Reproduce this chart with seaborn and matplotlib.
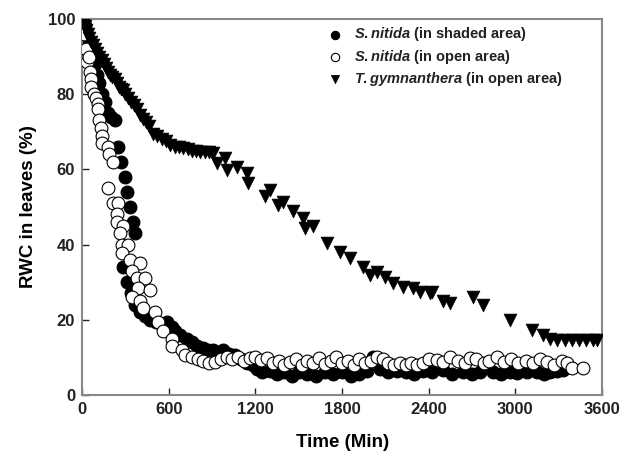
import pandas as pd
import matplotlib
matplotlib.use('Agg')
import matplotlib.pyplot as plt
import seaborn as sns

# S.nitida in shaded area (filled circles)
shaded_t = [0, 10, 20, 30, 45, 60, 75, 90, 105, 120, 140, 160, 180, 200, 228, 250, 270, 298, 312, 330,
            355, 367, 284, 312, 340, 367, 400, 436, 470, 510, 550, 589, 620, 644, 680, 727, 760, 796, 840,
            873, 907, 940, 976, 1020, 1060, 1100, 1140, 1180, 1212, 1247, 1300, 1350, 1400, 1450, 1500,
            1560, 1620, 1680, 1740, 1800, 1860, 1920, 1970, 2015, 2060, 2120, 2180, 2240, 2300, 2360,
            2420, 2500, 2560, 2640, 2700, 2756, 2846, 2900, 2960, 3012, 3080, 3150, 3200, 3240, 3290, 3330]
shaded_v = [100, 99, 98, 96, 94, 92, 90, 88, 85, 83, 80, 78, 75, 74, 73, 66, 62, 58, 54, 50,
            46, 43, 34, 30, 27, 24, 22, 21, 20, 19.5, 19, 19.5, 18, 17, 16, 15, 14, 13, 12.5,
            12, 12, 11.5, 12, 11, 10.5, 9.5, 8.5, 8, 7, 6, 6.5, 5.5, 6, 5, 6,
            5.5, 5, 6, 5.5, 6, 5, 5.5, 6.5, 10, 7, 6, 6.5, 6, 5.5, 6.5,
            6, 6.6, 5.5, 6, 5.5, 6, 6, 5.5, 6, 5.8, 6, 6, 5.5, 6, 6.5, 6.6]

# S.nitida in open area (open circles)
open_t = [0, 15, 25, 35, 45, 55, 65, 60, 80, 95, 110, 110, 115, 130, 140, 138, 180, 185, 215, 180,
          215, 250, 242, 242, 284, 263, 277, 318, 277, 332, 400, 346, 380, 436, 387, 470, 346, 400,
          422, 505, 526, 561, 623, 623, 692, 713, 762, 800, 840, 880, 920, 960, 1000, 1040, 1080,
          1120, 1160, 1200, 1240, 1280, 1320, 1360, 1400, 1440, 1480, 1520, 1560, 1600, 1640, 1680,
          1720, 1760, 1800, 1840, 1880, 1920, 1960, 2000, 2040, 2080, 2120, 2160, 2200, 2240, 2280,
          2320, 2360, 2400, 2458, 2500, 2550, 2600, 2650, 2687, 2730, 2780, 2820, 2870, 2920, 2970,
          3020, 3070, 3120, 3170, 3220, 3270, 3320, 3360, 3393, 3470]
open_v = [100, 96, 92, 88.5, 90, 86, 84, 82, 80, 79, 77.5, 76, 73, 71, 69, 67, 66, 64, 62, 55,
          51, 51, 48, 46, 45, 43, 40, 40, 37.7, 36, 35, 33, 31, 31, 28.5, 28, 26, 25,
          23, 22, 19.5, 17, 15, 13, 12, 10.6, 10, 9.5, 9, 8.5, 8.8, 9.5, 10, 9.5, 10,
          9, 9.8, 10, 9.2, 9.8, 8.5, 9, 8, 8.8, 9.5, 8, 9, 8.5, 9.8, 8.2,
          9, 10, 8.5, 9, 8, 9.5, 8.5, 9, 10, 9.5, 8.5, 8, 8.5, 8, 8.5,
          8, 8.5, 9.5, 9.3, 8.8, 10, 9, 8.5, 9.8, 9.5, 8.5, 9, 10, 8.8, 9.5,
          8.5, 9, 8.5, 9.5, 8.8, 8, 9, 8.5, 7.2, 7.2]

# T.gymnanthera in open area (triangles)
tg_t = [0, 10, 20, 30, 40, 50, 60, 75, 90, 105, 120, 135, 150, 165, 180, 195, 210, 225, 240, 255,
        270, 285, 300, 320, 340, 360, 380, 400, 420, 440, 460, 492, 520, 550, 580, 609, 640, 670,
        700, 730, 760, 790, 817, 850, 880, 907, 935, 990, 1004, 1073, 1143, 1150, 1267, 1302, 1357,
        1392, 1461, 1530, 1544, 1600, 1697, 1787, 1856, 1946, 1994, 2043, 2098, 2154, 2223, 2292,
        2341, 2410, 2423, 2500, 2548, 2708, 2777, 2964, 3116, 3193, 3240, 3290, 3340, 3390, 3440,
        3490, 3540, 3566]
tg_v = [100, 99, 98, 97, 96, 95, 94, 93, 92, 91, 90, 89, 88, 87, 86, 85, 84.5, 84, 83, 82,
        81.5, 81, 80, 79, 78, 77, 76, 74.5, 73.5, 72.5, 71.5, 69.5, 69, 68, 67.5, 66.5, 66, 66,
        65.7, 65.5, 65, 65, 64.6, 64.5, 64.5, 64.4, 61.7, 63, 59.8, 60.6, 59, 56.4, 53, 54.5, 50.5,
        51.3, 49, 47, 44.4, 45, 40.4, 38, 36.4, 34, 32, 32.7, 31.4, 29.8, 28.7, 28.5,
        27.4, 27, 27.5, 25, 24.5, 26, 24, 20, 17.3, 16, 14.8, 14.6, 14.6, 14.5, 14.6,
        14.5, 14.5, 14.6]

plt.rcParams['font.family'] = ['Liberation Sans', 'DejaVu Sans']
plt.rcParams['mathtext.fontset'] = 'custom'
plt.rcParams['mathtext.it'] = 'Liberation Sans:italic:bold'
plt.rcParams['mathtext.rm'] = 'Liberation Sans:bold'

fig = plt.figure(figsize=(6.22, 4.58), dpi=100)
ax = fig.add_axes([0.132, 0.1376, 0.836, 0.821])

sns.scatterplot(x=shaded_t, y=shaded_v, marker='o', s=85, color='black', edgecolor='black',
                linewidth=0.8, label=r'$\it{S.nitida}$ (in shaded area)', ax=ax, zorder=2)
sns.scatterplot(x=open_t, y=open_v, marker='o', s=85, facecolor='white', edgecolor='black',
                linewidth=0.8, label=r'$\it{S.nitida}$ (in open area)', ax=ax, zorder=3)
sns.scatterplot(x=tg_t, y=tg_v, marker='v', s=85, color='black', edgecolor='black',
                linewidth=0.5, label=r'$\it{T.gymnanthera}$ (in open area)', ax=ax, zorder=4)

ax.set_xlim(0, 3600)
ax.set_ylim(0, 100)
ax.set_xticks([0, 600, 1200, 1800, 2400, 3000, 3600])
ax.set_yticks([0, 20, 40, 60, 80, 100])
ax.tick_params(direction='in', length=5, width=1, labelsize=12, pad=5, colors='#222222')
for lab in ax.get_xticklabels() + ax.get_yticklabels():
    lab.set_fontweight('bold')
for sp in ax.spines.values():
    sp.set_color('#888888')
    sp.set_linewidth(1.5)

ax.set_xlabel('Time (Min)', fontsize=13.5, fontweight='bold', labelpad=12)
ax.set_ylabel('RWC in leaves (%)', fontsize=13.5, fontweight='bold', labelpad=8)

leg = ax.legend(loc='upper right', bbox_to_anchor=(0.943, 1.01), frameon=False, fontsize=10.5,
                handletextpad=0.3, labelspacing=0.3, markerscale=0.65, borderaxespad=0.3)
for txt in leg.get_texts():
    txt.set_fontweight('bold')
    txt.set_color('#222222')

fig.savefig('out.png', dpi=100)
